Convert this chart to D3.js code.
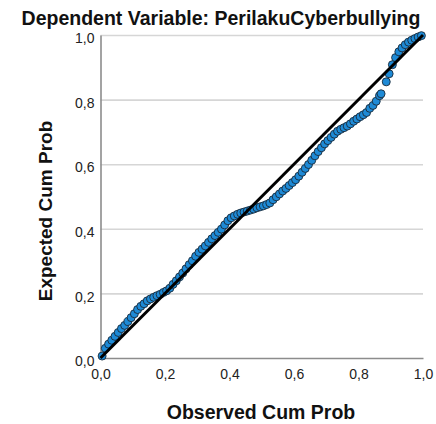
<!DOCTYPE html>
<html>
<head>
<meta charset="utf-8">
<script src="https://cdn.jsdelivr.net/npm/d3@7/dist/d3.min.js"></script>
<style>
  html, body { margin: 0; padding: 0; background: #fff; }
  svg { display: block; }
  text { font-family: "Liberation Sans", Arial, sans-serif; }
</style>
</head>
<body>
<svg id="chart" width="436" height="424"></svg>
<script>
const title = "Dependent Variable: PerilakuCyberbullying";
const xTitle = "Observed Cum Prob";
const yTitle = "Expected Cum Prob";
const tickValues = [0, 0.2, 0.4, 0.6, 0.8, 1.0];
const tickLabels = ["0,0", "0,2", "0,4", "0,6", "0,8", "1,0"];

const observed = [
  0.005, 0.015, 0.025, 0.035, 0.045, 0.055, 0.065, 0.075, 0.085, 0.095,
  0.105, 0.115, 0.125, 0.135, 0.145, 0.155, 0.165, 0.175, 0.185, 0.195,
  0.205, 0.215, 0.225, 0.235, 0.245, 0.255, 0.265, 0.275, 0.285, 0.295,
  0.305, 0.315, 0.325, 0.335, 0.345, 0.355, 0.365, 0.375, 0.385, 0.395,
  0.405, 0.415, 0.425, 0.435, 0.445, 0.455, 0.465, 0.475, 0.485, 0.495,
  0.505, 0.515, 0.525, 0.535, 0.545, 0.555, 0.565, 0.575, 0.585, 0.595,
  0.605, 0.615, 0.625, 0.635, 0.645, 0.655, 0.665, 0.675, 0.685, 0.695,
  0.705, 0.715, 0.725, 0.735, 0.745, 0.755, 0.765, 0.775, 0.785, 0.795,
  0.805, 0.815, 0.825, 0.835, 0.845, 0.855, 0.865, 0.870, 0.886, 0.895,
  0.905, 0.915, 0.925, 0.935, 0.945, 0.955, 0.965, 0.975, 0.985, 0.995
];
const expected = [
  0.006, 0.030, 0.043, 0.055, 0.067, 0.079, 0.091, 0.101, 0.113, 0.125,
  0.137, 0.150, 0.160, 0.168, 0.177, 0.183, 0.188, 0.193, 0.197, 0.203,
  0.208, 0.216, 0.228, 0.239, 0.251, 0.263, 0.276, 0.289, 0.301, 0.315,
  0.327, 0.337, 0.347, 0.358, 0.369, 0.379, 0.389, 0.399, 0.412, 0.425,
  0.434, 0.440, 0.445, 0.449, 0.452, 0.455, 0.458, 0.461, 0.465, 0.468,
  0.471, 0.475, 0.480, 0.490, 0.499, 0.508, 0.517, 0.525, 0.534, 0.543,
  0.552, 0.563, 0.575, 0.587, 0.599, 0.612, 0.626, 0.639, 0.651, 0.663,
  0.673, 0.683, 0.693, 0.702, 0.708, 0.713, 0.718, 0.725, 0.733, 0.740,
  0.747, 0.753, 0.760, 0.773, 0.782, 0.795, 0.812, 0.818, 0.855, 0.880,
  0.908, 0.930, 0.948, 0.960, 0.970, 0.978, 0.984, 0.989, 0.994, 0.998
];
const refLine = [[0, 0], [1, 1]];

const svg = d3.select("#chart");
const plotLeft = 100.5, plotRight = 423, plotTop = 35, plotBottom = 358;

const x = d3.scaleLinear().domain([0, 1]).range([plotLeft, plotRight]);
const y = d3.scaleLinear().domain([0, 1]).range([plotBottom, plotTop]);

// gridlines
svg.append("g")
  .attr("transform", `translate(${plotLeft},0)`)
  .call(d3.axisLeft(y).tickValues(tickValues.slice(1)).tickSize(-(plotRight - plotLeft)).tickFormat(""))
  .call(g => g.select(".domain").remove())
  .call(g => g.selectAll(".tick line").attr("stroke", "#d6d6d6").attr("stroke-width", 1.6));

// y axis
const yAxis = svg.append("g")
  .attr("transform", `translate(${plotLeft},0)`)
  .call(d3.axisLeft(y).tickValues(tickValues).tickSize(0).tickPadding(6)
    .tickFormat((d, i) => tickLabels[i]));
yAxis.select(".domain").attr("stroke", "#8c8c8c").attr("stroke-width", 1.6);
yAxis.selectAll("text").attr("font-size", 14).attr("fill", "#222").attr("dy", "0.55em")
  .attr("font-family", "Liberation Sans, Arial, sans-serif");

// x axis
const xAxis = svg.append("g")
  .attr("transform", `translate(0,${plotBottom})`)
  .call(d3.axisBottom(x).tickValues(tickValues).tickSize(0).tickPadding(11)
    .tickFormat((d, i) => tickLabels[i]));
xAxis.select(".domain").attr("stroke", "#8c8c8c").attr("stroke-width", 1.6);
xAxis.selectAll("text").attr("font-size", 14).attr("fill", "#222")
  .attr("font-family", "Liberation Sans, Arial, sans-serif");

// points
const pts = observed.map((o, i) => [o, expected[i]]);
svg.append("g").selectAll("circle").data(pts).join("circle")
  .attr("cx", d => x(d[0]))
  .attr("cy", d => y(d[1]))
  .attr("r", 4)
  .attr("fill", "#1e8ad6")
  .attr("stroke", "#1a2a3a")
  .attr("stroke-width", 0.9);

// reference line
svg.append("path")
  .datum(refLine)
  .attr("d", d3.line().x(d => x(d[0])).y(d => y(d[1])))
  .attr("stroke", "#000")
  .attr("stroke-width", 3)
  .attr("fill", "none");

// titles
svg.append("text")
  .attr("x", 221).attr("y", 25)
  .attr("text-anchor", "middle")
  .attr("font-size", 19.5).attr("font-weight", "bold").attr("fill", "#111")
  .text(title);

svg.append("text")
  .attr("x", 261).attr("y", 419)
  .attr("text-anchor", "middle")
  .attr("font-size", 19.5).attr("font-weight", "bold").attr("fill", "#111")
  .text(xTitle);

svg.append("text")
  .attr("transform", `translate(52,211) rotate(-90)`)
  .attr("text-anchor", "middle")
  .attr("font-size", 19).attr("font-weight", "bold").attr("fill", "#111")
  .text(yTitle);
</script>
</body>
</html>
